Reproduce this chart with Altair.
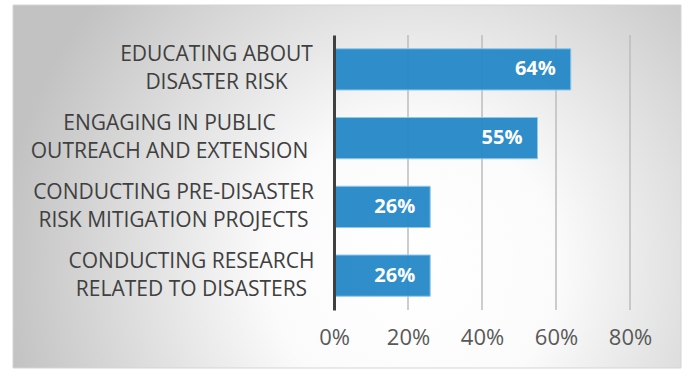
import altair as alt
import pandas as pd

categories = [
    "EDUCATING ABOUT|DISASTER RISK",
    "ENGAGING IN PUBLIC|OUTREACH AND EXTENSION",
    "CONDUCTING PRE-DISASTER|RISK MITIGATION PROJECTS",
    "CONDUCTING RESEARCH|RELATED TO DISASTERS",
]
values = [0.64, 0.55, 0.26, 0.26]
tick_values = [0.0, 0.2, 0.4, 0.6, 0.8]
grid_values = [0.2, 0.4, 0.6, 0.8]

df = pd.DataFrame({"category": categories, "value": values})
grid_df = pd.DataFrame({"g": grid_values})

FONT = "Open Sans"
PLOT_W = 296
PLOT_H = 275

label_pad = {
    "condition": [
        {"test": f"datum.value == '{categories[0]}'", "value": 118},
        {"test": f"datum.value == '{categories[1]}'", "value": 165},
        {"test": f"datum.value == '{categories[2]}'", "value": 161},
    ],
    "value": 143,
}

xscale = alt.Scale(domain=[0, 0.8], nice=False, zero=True)
yscale = alt.Scale(domain=categories, paddingInner=0.4, paddingOuter=0.2)

bg = alt.Chart(alt.Data(values=[{"k": 1}])).mark_rect(
    fill={
        "gradient": "radial",
        "x1": 0.6, "y1": 0.62, "r1": 0,
        "x2": 0.6, "y2": 0.62, "r2": 0.62,
        "stops": [
            {"offset": 0, "color": "#ffffff"},
            {"offset": 0.35, "color": "#fbfbfb"},
            {"offset": 1, "color": "#c2c2c2"},
        ],
    },
    stroke="#d4d4d4",
    strokeWidth=1,
).encode(
    x=alt.value(-321), x2=alt.value(347),
    y=alt.value(-30), y2=alt.value(333),
)

grid = alt.Chart(grid_df).mark_rule(color="#bdbdbd", strokeWidth=1.5).encode(
    x=alt.X("g:Q", scale=xscale),
    y=alt.value(0),
    y2=alt.value(PLOT_H),
)

base = alt.Chart(df)

bars = base.mark_bar(
    color="#2589c8", opacity=0.95, stroke="#8cc6ea", strokeWidth=1
).encode(
    x=alt.X(
        "value:Q",
        scale=xscale,
        axis=alt.Axis(
            values=tick_values, format=".0%", title=None, grid=False,
            domain=False, ticks=False, labelFont=FONT, labelFontSize=22,
            labelColor="#595959", labelPadding=17, labelFlush=False,
            labelOverlap=False, zindex=1,
        ),
    ),
    y=alt.Y(
        "category:N",
        scale=yscale,
        sort=None,
        axis=alt.Axis(
            title=None, ticks=False, grid=False, domain=True,
            domainColor="#404040", domainWidth=3,
            labelExpr="split(datum.value, '|')",
            labelAlign="center", labelBaseline="middle",
            labelPadding=label_pad, labelOffset=-14,
            labelFont=FONT, labelFontSize=21, labelColor="#404040",
            labelLineHeight=28, labelLimit=400, zindex=1,
        ),
    ),
)

texts = base.mark_text(
    align="right", baseline="middle", dx=-15, color="white",
    font=FONT, fontSize=20, fontWeight="bold",
).encode(
    x=alt.X("value:Q", scale=xscale),
    y=alt.Y("category:N", scale=yscale, sort=None),
    text=alt.Text("value:Q", format=".0%"),
)

chart = alt.layer(bg, grid, bars, texts).properties(
    width=PLOT_W,
    height=PLOT_H,
    autosize=alt.AutoSizeParams(type="none"),
    padding={"left": 334, "top": 35, "right": 53, "bottom": 59},
    background="white",
).configure_view(stroke=None)

chart.save("out.html", embed_options={"renderer": "svg", "actions": False})
